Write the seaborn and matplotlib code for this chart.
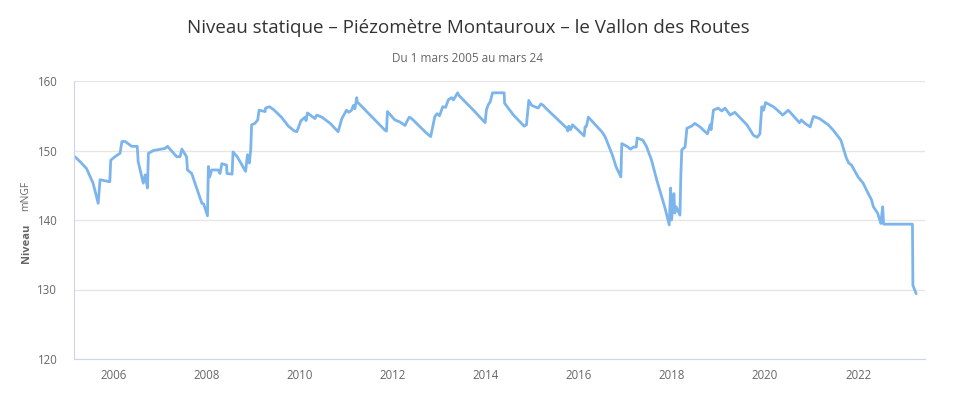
import matplotlib
matplotlib.use("Agg")
import matplotlib.pyplot as plt
import seaborn as sns
import pandas as pd

# groundwater level, decimal year vs mNGF
years = [2005.16, 2005.27, 2005.41, 2005.55, 2005.66, 2005.70, 2005.91, 2005.93,
         2006.02, 2006.13, 2006.17, 2006.24, 2006.38, 2006.50, 2006.52, 2006.63,
         2006.67, 2006.72, 2006.74, 2006.85, 2007.10, 2007.15, 2007.35, 2007.42,
         2007.46, 2007.56, 2007.58, 2007.67, 2007.89, 2007.93, 2008.01, 2008.03,
         2008.06, 2008.10, 2008.24, 2008.28, 2008.32, 2008.42, 2008.43, 2008.54,
         2008.56, 2008.65, 2008.71, 2008.83, 2008.87, 2008.91, 2008.94, 2008.96,
         2009.03, 2009.09, 2009.12, 2009.25, 2009.26, 2009.34, 2009.43, 2009.60,
         2009.75, 2009.88, 2009.93, 2009.96, 2010.02, 2010.11, 2010.13, 2010.16,
         2010.32, 2010.36, 2010.47, 2010.65, 2010.82, 2010.90, 2011.00, 2011.05,
         2011.11, 2011.15, 2011.18, 2011.22, 2011.23, 2011.83, 2011.86, 2011.88,
         2012.04, 2012.15, 2012.26, 2012.30, 2012.35, 2012.40, 2012.72, 2012.81,
         2012.90, 2012.95, 2013.00, 2013.07, 2013.13, 2013.19, 2013.26, 2013.30,
         2013.39, 2013.42, 2013.73, 2013.98, 2014.01, 2014.05, 2014.09, 2014.14,
         2014.39, 2014.40, 2014.59, 2014.82, 2014.87, 2014.92, 2014.98, 2015.12,
         2015.18, 2015.23, 2015.30, 2015.74, 2015.76, 2015.78, 2015.82, 2015.86,
         2016.11, 2016.13, 2016.16, 2016.20, 2016.49, 2016.56, 2016.72, 2016.80,
         2016.90, 2016.92, 2017.03, 2017.11, 2017.17, 2017.23, 2017.25, 2017.37,
         2017.45, 2017.56, 2017.67, 2017.85, 2017.94, 2017.97, 2017.99, 2018.04,
         2018.06, 2018.09, 2018.17, 2018.19, 2018.21, 2018.28, 2018.32, 2018.42,
         2018.49, 2018.60, 2018.76, 2018.82, 2018.84, 2018.89, 2018.99, 2019.07,
         2019.14, 2019.25, 2019.35, 2019.61, 2019.75, 2019.83, 2019.89, 2019.93,
         2019.97, 2020.01, 2020.18, 2020.25, 2020.38, 2020.50, 2020.74, 2020.78,
         2020.86, 2020.97, 2021.04, 2021.17, 2021.36, 2021.47, 2021.63, 2021.75,
         2021.80, 2021.86, 2022.00, 2022.11, 2022.19, 2022.29, 2022.33, 2022.42,
         2022.49, 2022.53, 2022.55, 2023.17, 2023.18, 2023.25]
level = [149.1, 148.4, 147.4, 145.3, 142.4, 145.8, 145.5, 148.6,
         149.1, 149.6, 151.3, 151.3, 150.6, 150.6, 148.4, 145.3,
         146.5, 144.6, 149.6, 150.0, 150.3, 150.6, 149.1, 149.1,
         150.2, 149.1, 147.2, 146.7, 142.4, 142.3, 140.6, 147.7,
         146.2, 147.2, 147.2, 146.7, 148.1, 147.9, 146.7, 146.6,
         149.8, 149.1, 148.4, 147.0, 149.4, 148.2, 150.1, 153.7,
         153.9, 154.4, 155.8, 155.6, 156.1, 156.3, 155.9, 154.8,
         153.5, 152.8, 152.7, 153.2, 154.3, 154.8, 154.3, 155.4,
         154.6, 155.1, 154.8, 153.9, 152.7, 154.6, 155.8, 155.5,
         155.8, 156.5, 156.0, 157.6, 157.0, 152.9, 152.8, 155.6,
         154.4, 154.1, 153.6, 154.2, 154.8, 154.6, 152.5, 152.0,
         154.9, 155.3, 155.0, 156.3, 156.2, 157.3, 157.6, 157.3,
         158.3, 157.9, 155.8, 154.0, 155.9, 156.6, 157.0, 158.3,
         158.3, 156.8, 155.1, 153.5, 153.7, 157.2, 156.5, 156.1,
         156.7, 156.5, 156.0, 153.2, 152.8, 153.5, 153.0, 153.7,
         152.1, 153.4, 153.5, 154.8, 152.7, 152.0, 149.3, 147.6,
         146.2, 151.0, 150.6, 150.2, 150.5, 150.5, 151.8, 151.5,
         150.6, 148.6, 145.8, 141.7, 139.3, 144.6, 140.0, 143.8,
         141.0, 141.9, 140.7, 146.5, 150.1, 150.5, 153.2, 153.5,
         153.9, 153.4, 152.4, 153.7, 153.0, 155.8, 156.1, 155.7,
         156.1, 155.1, 155.5, 153.7, 152.2, 151.9, 152.4, 156.3,
         155.8, 156.9, 156.3, 155.9, 155.1, 155.8, 154.0, 154.4,
         153.9, 153.4, 154.9, 154.6, 153.7, 152.9, 151.5, 148.9,
         148.2, 147.9, 146.2, 145.3, 144.2, 142.9, 141.9, 141.0,
         139.5, 141.9, 139.4, 139.4, 130.6, 129.4]

x_ticks = [2006, 2008, 2010, 2012, 2014, 2016, 2018, 2020, 2022]
y_ticks = [120, 130, 140, 150, 160]

title = "Niveau statique \u2013 Piézomètre Montauroux \u2013 le Vallon des Routes"
subtitle = "Du 1 mars 2005 au mars 24"

sns.set_style("white")
plt.rcParams["font.family"] = ["Open Sans", "DejaVu Sans"]

df = pd.DataFrame({"annee": years, "niveau": level})

fig = plt.figure(figsize=(9.6, 3.93), dpi=100)
ax = fig.add_axes([74 / 960, 1 - 359 / 393, 851 / 960, 278 / 393])

sns.lineplot(data=df, x="annee", y="niveau", ax=ax, color="#7cb5ec",
             linewidth=2, estimator=None, sort=False)

ax.set_xlim(2005.14, 2023.44)
ax.set_ylim(120, 160)
ax.set_xticks(x_ticks)
ax.set_yticks(y_ticks)
ax.set_xlabel("")
ax.set_ylabel("")
ax.grid(axis="y", color="#e6e6e6", linewidth=1)
ax.grid(axis="x", visible=False)
for side in ["top", "right"]:
    ax.spines[side].set_visible(False)
ax.spines["left"].set_color("#ccd6eb")
ax.spines["bottom"].set_color("#ccd6eb")
ax.tick_params(axis="x", colors="#666666", labelsize=8.3, length=4,
               width=1, direction="out", pad=3)
ax.tick_params(axis="x", color="#ccd6eb")
ax.tick_params(axis="y", colors="#666666", labelsize=8.3, length=0, pad=12)

fig.text(468 / 960, 1 - 28 / 393, title, ha="center", va="center",
         fontsize=13.5, color="#333333")
fig.text(468 / 960, 1 - 58 / 393, subtitle, ha="center", va="center",
         fontsize=8.5, color="#666666")

fig.text(26 / 960, 1 - 243 / 393, "Niveau", rotation=90, ha="center",
         va="center", fontsize=8, fontweight="bold", color="#666666")
fig.text(26 / 960, 1 - 196 / 393, "mNGF", rotation=90, ha="center",
         va="center", fontsize=7.5, color="#666666")

fig.savefig("out.png", dpi=100)
